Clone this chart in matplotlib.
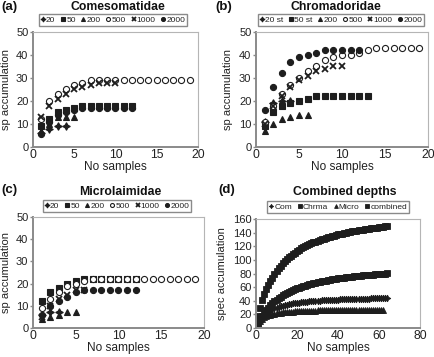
import matplotlib
matplotlib.use("Agg")
import matplotlib.pyplot as plt

plt.rcParams['font.family'] = ['Liberation Sans', 'DejaVu Sans']

# ---------------- data ----------------
# (a) Comesomatidae
a_20 = [6, 8, 9, 9]
a_50 = [9, 12, 15, 16, 17, 18, 18, 18, 18, 18, 18, 18]
a_200 = [7, 10, 13, 13, 13]
a_500 = [12, 20, 23, 25, 27, 28, 29, 29, 29, 29, 29, 29, 29, 29, 29, 29, 29, 29, 29]
a_1000 = [13, 18, 21, 23, 25, 26, 27, 28, 28, 28]
a_2000 = [5.5, 11, 14, 15, 16, 17, 17, 17, 17, 17, 17, 17]

# (b) Chromadoridae
b_20 = [11, 19, 20, 20]
b_50 = [9, 15, 18, 19, 20, 21, 22, 22, 22, 22, 22, 22, 22]
b_200 = [7, 10, 12, 13, 14, 14]
b_500 = [11, 18, 23, 27, 30, 33, 35, 38, 39, 40, 40, 41, 42, 43, 43, 43, 43, 43, 43]
b_1000 = [10, 18, 22, 26, 29, 31, 33, 34, 35, 35]
b_2000 = [16, 26, 32, 37, 39, 40, 41, 42, 42, 42, 42, 42]

# (c) Microlaimidae
c_20 = [6, 7, 7]
c_50 = [12, 16, 18, 20, 21, 22, 22, 22, 22, 22, 22, 22]
c_200 = [4, 5, 6, 7, 7]
c_500 = [9, 13, 16, 19, 20, 21, 22, 22, 22, 22, 22, 22, 22, 22, 22, 22, 22, 22, 22]
c_1000 = [5, 10, 13, 15, 17, 17]
c_2000 = [6, 10, 12, 14, 16, 17, 17, 17, 17, 17, 17, 17]

# (d) Combined depths
d_com = [6.9, 12, 16, 19.2, 21.8, 24, 25.8, 27.4, 28.8, 30, 31.1, 32, 32.8, 33.6, 34.3,
         34.9, 35.5, 36, 36.5, 36.9, 37.3, 37.7, 38.1, 38.4, 38.7, 39, 39.3, 39.5, 39.8,
         40, 40.2, 40.4, 40.6, 40.8, 41, 41.1, 41.3, 41.5, 41.6, 41.7, 41.9, 42, 42.1,
         42.2, 42.4, 42.5, 42.6, 42.7, 42.8, 42.9, 42.9, 43, 43.1, 43.2, 43.3, 43.4, 43.4,
         43.5, 43.6, 43.6, 43.7, 43.8, 43.8, 43.9]
d_chrma = [6.7, 12.6, 17.7, 22.3, 26.4, 30, 33.3, 36.3, 39, 41.5, 43.7, 45.8, 47.8, 49.6,
           51.2, 52.8, 54.2, 55.6, 56.9, 58.1, 59.2, 60.3, 61.3, 62.2, 63.2, 64, 64.8, 65.6,
           66.3, 67, 67.7, 68.4, 69, 69.6, 70.1, 70.7, 71.2, 71.7, 72.2, 72.7, 73.1, 73.5,
           74, 74.4, 74.7, 75.1, 75.5, 75.8, 76.2, 76.5, 76.8, 77.1, 77.4, 77.7, 78, 78.3,
           78.5, 78.8, 79, 79.3, 79.5, 79.8, 80, 80.2]
d_micro = [6.8, 10.9, 13.7, 15.8, 17.3, 18.5, 19.5, 20.3, 21, 21.5, 22, 22.4, 22.8, 23.1,
           23.4, 23.7, 23.9, 24.1, 24.3, 24.5, 24.6, 24.8, 24.9, 25.1, 25.2, 25.3, 25.4,
           25.5, 25.6, 25.7, 25.7, 25.8, 25.9, 26, 26, 26.1, 26.1, 26.2, 26.2, 26.3, 26.3,
           26.4, 26.4, 26.5, 26.5, 26.6, 26.6, 26.6, 26.7, 26.7, 26.7, 26.8, 26.8, 26.8,
           26.8, 26.9, 26.9, 26.9, 26.9, 27, 27, 27]
d_comb = [17, 30, 41, 50, 57, 63, 69, 74, 79, 83, 87.5, 91.3, 94.8, 98, 101, 103.7, 106.2,
          108.6, 110.8, 112.9, 114.8, 116.7, 118.4, 120, 121.5, 123, 124.3, 125.6, 126.9,
          128, 129.2, 130.2, 131.2, 132.2, 133.2, 134, 134.9, 135.7, 136.5, 137.3, 138,
          138.7, 139.4, 140, 140.6, 141.2, 141.8, 142.4, 142.9, 143.4, 144, 144.4, 144.9,
          145.4, 145.8, 146.3, 146.7, 147.1, 147.5, 147.9, 148.3, 148.6, 149, 149.3]

depth_labels_a = ['20', '50', '200', '500', '1000', '2000']
depth_labels_b = ['20 st', '50 st', '200', '500', '1000', '2000']
comb_labels = ['Com', 'Chrma', 'Micro', 'combined']

# ---------------- style ----------------
DARK = '#1e1e1e'
GRAY = '#8a8a8a'
TXT = '#222222'
STAR4 = (4, 1, 0)
markers = [STAR4, 's', '^', 'o', 'x', 'o']
faces = [DARK, DARK, DARK, 'white', DARK, DARK]
TICK_FS = 8
XLAB_FS = 8.6
YLAB_FS = 8
LEG_FS = 6

W, H = 435, 357
fig = plt.figure(figsize=(W / 100, H / 100), dpi=100)


def box(l, t, r, b):
    return [l / W, 1 - b / H, (r - l) / W, (b - t) / H]


def style_axes(ax, rect, xlim, ylim, xticks, yticks, ylabel, ylab_x):
    ax.set_xlim(*xlim)
    ax.set_ylim(*ylim)
    ax.set_xticks(xticks)
    ax.set_yticks(yticks)
    for s in ['left', 'bottom']:
        ax.spines[s].set_color(GRAY)
        ax.spines[s].set_linewidth(1.4)
    for s in ['top', 'right']:
        ax.spines[s].set_color('#b5b5b5')
        ax.spines[s].set_linewidth(0.8)
    ax.tick_params(axis='both', direction='out', length=2.5, width=1, color=GRAY,
                   labelsize=TICK_FS, pad=0.8, labelcolor=TXT)
    ax.tick_params(axis='x', length=0, pad=1.5, labelsize=TICK_FS + 0.8)
    ax.set_xlabel('No samples', fontsize=XLAB_FS, labelpad=0, color=TXT)
    ax.set_ylabel(ylabel, fontsize=YLAB_FS, color=TXT)
    l, t, r, b = rect
    ax.yaxis.set_label_coords((ylab_x - l) / (r - l), 0.5)


def add_legend(ax, handles, xy, ncol):
    leg = ax.legend(handles=handles, loc='center',
                    bbox_to_anchor=(xy[0] / W, 1 - xy[1] / H),
                    bbox_transform=fig.transFigure, ncol=ncol, fontsize=LEG_FS,
                    handlelength=0.55, handletextpad=0.1, columnspacing=0.65,
                    borderpad=0.22, markerscale=0.65, fancybox=False, framealpha=1,
                    edgecolor=GRAY, borderaxespad=0)
    leg.get_frame().set_linewidth(1.0)
    for t in leg.get_texts():
        t.set_color(TXT)
    return leg


def depth_panel(rect, series, labels, title, letter, title_xy, leg_xy, letter_xy, ylabel,
                ylab_x):
    ax = fig.add_axes(box(*rect))
    handles = []
    for vals, m, fc, lab in zip(series, markers, faces, labels):
        xs = list(range(1, len(vals) + 1))
        ms = 5.5 if m == STAR4 else (4.0 if m == 'x' else 4.4)
        h, = ax.plot(xs, vals, linestyle='none', marker=m, markersize=ms,
                     markerfacecolor=fc, markeredgecolor=DARK,
                     markeredgewidth=1.3 if m == 'x' else 0.8, label=lab)
        handles.append(h)
    style_axes(ax, rect, (0, 20), (0, 50), [0, 5, 10, 15, 20], [0, 10, 20, 30, 40, 50],
               ylabel, ylab_x)
    fig.text(title_xy[0] / W, 1 - title_xy[1] / H, title, ha='center', va='center',
             fontsize=8.8, fontweight='bold', color='#111111')
    fig.text(letter_xy[0] / W, 1 - letter_xy[1] / H, letter, ha='left', va='center',
             fontsize=9.5, fontweight='bold', color='#111111')
    add_legend(ax, handles, leg_xy, len(handles))
    return ax


depth_panel((33, 32, 198, 147), [a_20, a_50, a_200, a_500, a_1000, a_2000],
            depth_labels_a, 'Comesomatidae', '(a)', (118, 7), (113, 20), (1, 7),
            'sp accumulation', 10.8)
depth_panel((256, 32, 428, 147), [b_20, b_50, b_200, b_500, b_1000, b_2000],
            depth_labels_b, 'Chromadoridae', '(b)', (336, 7), (341, 20), (215, 7),
            'sp accumulation', 233)
depth_panel((33, 217, 204, 328), [c_20, c_50, c_200, c_500, c_1000, c_2000],
            depth_labels_a, 'Microlaimidae', '(c)', (120, 192), (117, 206), (1, 190),
            'sp accumulation', 10.8)

# (d)
rect_d = (256, 219, 420, 328)
axd = fig.add_axes(box(*rect_d))
d_series = [d_com, d_chrma, d_micro, d_comb]
d_markers = [STAR4, 's', '^', 's']
d_sizes = [4.8, 4.2, 4.2, 4.2]
hs = []
for vals, m, ms, lab in zip(d_series, d_markers, d_sizes, comb_labels):
    xs = list(range(1, len(vals) + 1))
    h, = axd.plot(xs, vals, linestyle='none', marker=m, markersize=ms,
                  markerfacecolor=DARK, markeredgecolor=DARK, markeredgewidth=0.6,
                  label=lab)
    hs.append(h)
style_axes(axd, rect_d, (0, 80), (0, 160), [0, 20, 40, 60, 80], list(range(0, 161, 20)),
           'spec accumulation', 227)
fig.text(345 / W, 1 - 192 / H, 'Combined depths', ha='center', va='center',
         fontsize=8.8, fontweight='bold', color='#111111')
fig.text(218 / W, 1 - 190 / H, '(d)', ha='left', va='center',
         fontsize=9.5, fontweight='bold', color='#111111')
add_legend(axd, hs, (338, 207), 4)

fig.savefig('out.png', dpi=100)
